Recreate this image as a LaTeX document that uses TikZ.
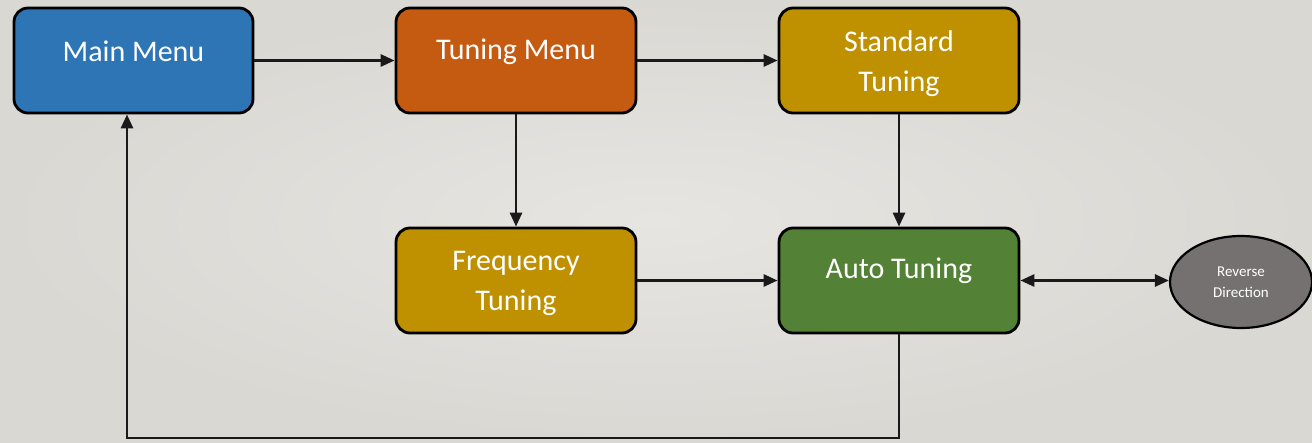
\documentclass[tikz,border=0pt]{standalone}
\usepackage{fontspec}
\setmainfont{Carlito}
\usetikzlibrary{arrows.meta,shapes.geometric}

\definecolor{bgmid}{HTML}{E7E5E1}
\definecolor{bgedge}{HTML}{DAD8D3}
\definecolor{menublue}{HTML}{2E75B6}
\definecolor{menuorange}{HTML}{C55A11}
\definecolor{tunegold}{HTML}{BF9000}
\definecolor{autogreen}{HTML}{538135}
\definecolor{revgray}{HTML}{767171}

\tikzset{
  stagebox/.style={draw=black, line width=2.8pt, rounded corners=14pt,
    minimum width=240pt, minimum height=105pt, inner sep=0pt},
  boxtxt/.style={text=white, font=\fontsize{30}{40}\selectfont, align=center, inner sep=0pt},
  revnode/.style={ellipse, draw=black, line width=2.2pt, fill=revgray,
    minimum width=142pt, minimum height=92pt, inner sep=0pt,
    text=white, font=\fontsize{15}{21}\selectfont, align=center},
  link/.style={line width=2.8pt, draw=black!90,
    -{Triangle[length=14pt,width=12pt]}},
  dlink/.style={line width=2.8pt, draw=black!90,
    {Triangle[length=14pt,width=12pt]}-{Triangle[length=14pt,width=12pt]}}
}

\begin{document}
\begin{tikzpicture}[x=1pt, y=-1pt]
  % page background
  \useasboundingbox (0,0) rectangle (1312,442);
  \shade[inner color=bgmid, outer color=bgedge] (0,0) rectangle (1312,442);

  % stages
  \node[stagebox, fill=menublue, minimum width=239pt,
        label={[boxtxt, yshift=9pt]center:Main Menu}] (main) at (133.5,60.5) {};
  \node[stagebox, fill=menuorange,
        label={[boxtxt, yshift=9pt]center:Tuning Menu}] (tuning) at (516,60.5) {};
  \node[stagebox, fill=tunegold,
        label={[boxtxt, yshift=-3.5pt]center:{Standard\\Tuning}}] (standard) at (899,60.5) {};
  \node[stagebox, fill=tunegold,
        label={[boxtxt, yshift=-3pt]center:{Frequency\\Tuning}}] (freq) at (516,280.5) {};
  \node[stagebox, fill=autogreen,
        label={[boxtxt, yshift=10pt]center:Auto Tuning}] (auto) at (899,280.5) {};
  \node[revnode] (reverse) at (1241,282) {Reverse\\Direction};

  % connectors
  \draw[link] (main.east) -- (tuning.west);
  \draw[link] (tuning.east) -- (standard.west);
  \draw[link] (tuning.south) -- (freq.north);
  \draw[link] (standard.south) -- (auto.north);
  \draw[link] (freq.east) -- (auto.west);
  \draw[dlink] (auto.east) -- (auto.east -| reverse.west);

  % return path back to the main menu
  \coordinate (loop) at (127,438);
  \draw[link] (auto.south) |- (loop) -- (loop |- main.south);
\end{tikzpicture}
\end{document}
